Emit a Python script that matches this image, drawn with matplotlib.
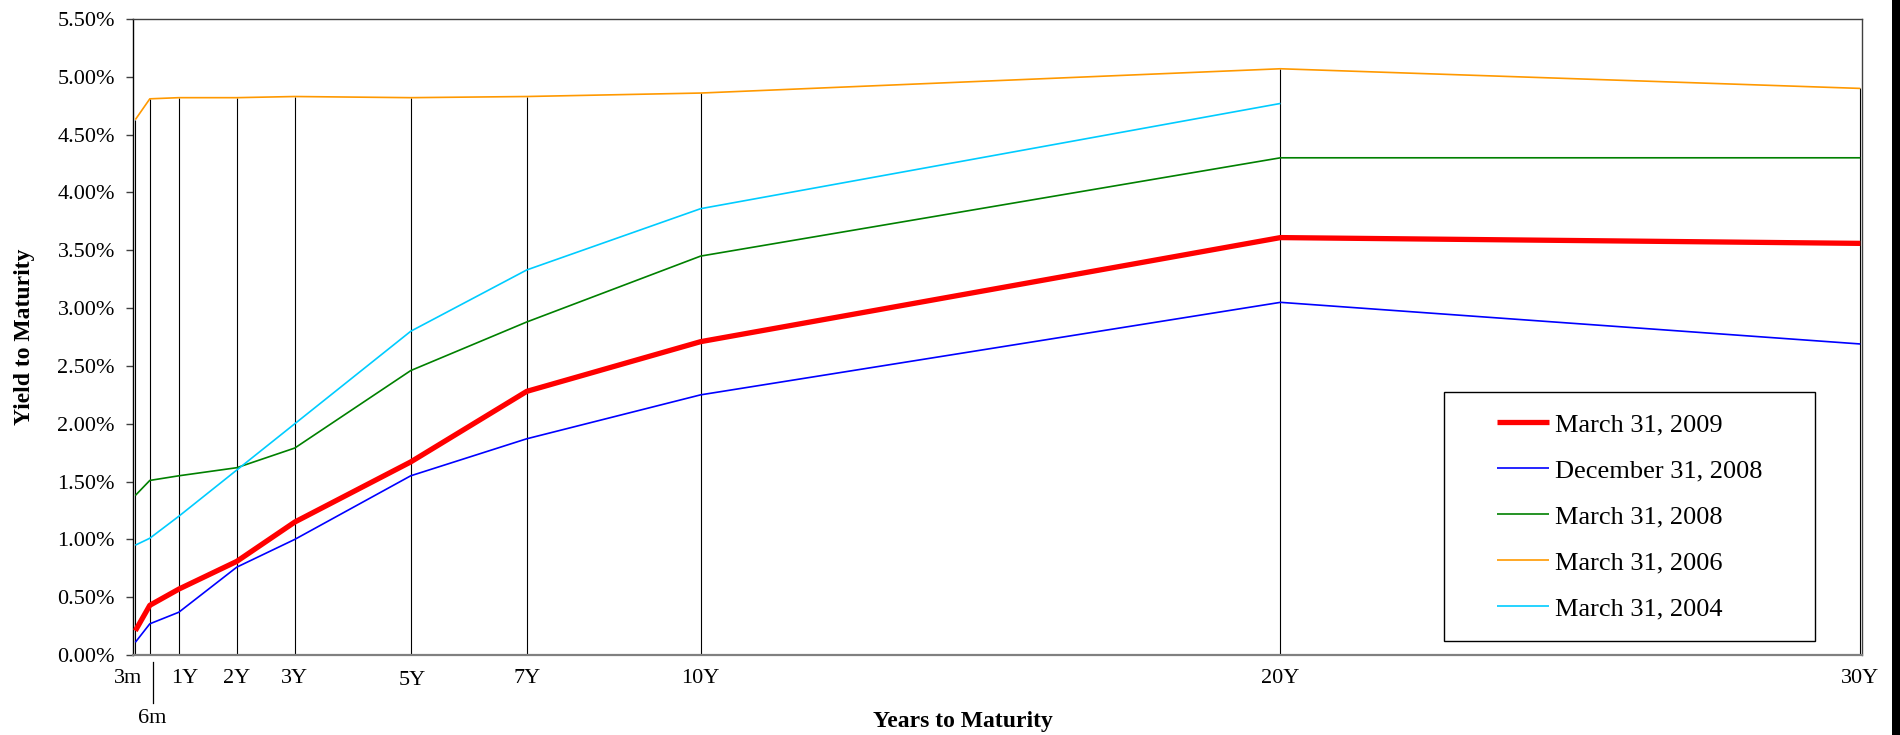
import numpy as np
import matplotlib
matplotlib.use("Agg")
import matplotlib.pyplot as plt
import matplotlib.transforms as mtransforms
from matplotlib.patches import Rectangle

# ---------------------------------------------------------------------------
# data (yield curve, % per maturity)
# ---------------------------------------------------------------------------
MATURITY_YEARS = [0.25, 0.5, 1, 2, 3, 5, 7, 10, 20, 30]
MATURITY_LABELS = ["3m", "6m", "1Y", "2Y", "3Y", "5Y", "7Y", "10Y", "20Y", "30Y"]

YLD_MAR_2009 = [0.21, 0.43, 0.57, 0.81, 1.15, 1.67, 2.28, 2.71, 3.61, 3.56]
YLD_DEC_2008 = [0.11, 0.27, 0.37, 0.76, 1.00, 1.55, 1.87, 2.25, 3.05, 2.69]
YLD_MAR_2008 = [1.38, 1.51, 1.55, 1.62, 1.79, 2.46, 2.88, 3.45, 4.30, 4.30]
YLD_MAR_2006 = [4.63, 4.81, 4.82, 4.82, 4.83, 4.82, 4.83, 4.86, 5.07, 4.90]
YLD_MAR_2004 = [0.95, 1.01, 1.20, 1.60, 2.00, 2.80, 3.33, 3.86, 4.77, np.nan]

SERIES = [
    ("March 31, 2009", YLD_MAR_2009, "#ff0000", 3.8),
    ("December 31, 2008", YLD_DEC_2008, "#0000ff", 1.2),
    ("March 31, 2008", YLD_MAR_2008, "#008000", 1.2),
    ("March 31, 2006", YLD_MAR_2006, "#ff9900", 1.2),
    ("March 31, 2004", YLD_MAR_2004, "#00ccff", 1.2),
]

plt.rcParams["font.family"] = ["Liberation Serif", "DejaVu Serif"]

fig = plt.figure(figsize=(19, 7.35), dpi=100)
ax = fig.add_axes([0.0700, 0.1088, 0.9100, 0.8653])

# drop lines from the axis up to the highest curve at each maturity
tops = np.nanmax(np.array([s[1] for s in SERIES], dtype=float), axis=0)
ax.vlines(MATURITY_YEARS, 0, tops, colors="black", lw=0.8, zorder=1)

handles = []
for name, vals, color, lw in SERIES:
    (h,) = ax.plot(MATURITY_YEARS, vals, color=color, lw=lw, label=name,
                   solid_capstyle="butt", zorder=3)
    handles.append(h)

ax.set_xlim(0.21, 30.03)
ax.set_ylim(0, 5.5)
ax.set_yticks(np.arange(0, 5.51, 0.5))
ax.yaxis.set_major_formatter(plt.FuncFormatter(lambda v, _: f"{v:.2f}%"))
ax.tick_params(axis="y", direction="out", length=5, width=1, color="#404040",
               labelsize=16, pad=8)

ax.set_xticks(MATURITY_YEARS)
ax.set_xticklabels(MATURITY_LABELS)
ax.tick_params(axis="x", length=0, labelsize=16, pad=10)

# nudge the crowded short-end labels like the original
offsets = {"3m": (-7, 0), "6m": (2, -40), "1Y": (6, 0), "5Y": (2, -2)}
for lab in ax.get_xticklabels():
    dx, dy = offsets.get(lab.get_text(), (0, 0))
    if dx or dy:
        lab.set_transform(lab.get_transform()
                          + mtransforms.ScaledTranslation(dx / 100, dy / 100, fig.dpi_scale_trans))

# small separator tick under the 6m point
blend = mtransforms.blended_transform_factory(ax.transData, ax.transAxes)
sep = blend + mtransforms.ScaledTranslation(0.03, 0, fig.dpi_scale_trans)
ax.plot([MATURITY_YEARS[1]] * 2, [-0.0105, -0.075], color="black", lw=0.9,
        transform=sep, clip_on=False)

for side in ("top", "right"):
    ax.spines[side].set_color("#404040")
    ax.spines[side].set_linewidth(1.0)
ax.spines["left"].set_color("black")
ax.spines["left"].set_linewidth(1.0)
ax.spines["bottom"].set_color("#808080")
ax.spines["bottom"].set_linewidth(1.6)

ax.set_ylabel("Yield to Maturity", fontsize=17, fontweight="bold", labelpad=16)
ax.set_xlabel("Years to Maturity", fontsize=17, fontweight="bold")
ax.xaxis.set_label_coords(0.48, -0.088)

# legend: drawn box + frameless legend centred in it
ax.add_patch(Rectangle((0.758, 0.022), 0.215, 0.3915, transform=ax.transAxes,
                       facecolor="white", edgecolor="black", lw=1.0, zorder=4))
leg = ax.legend(handles=handles, loc="center", bbox_to_anchor=(0.8658, 0.2178),
                frameon=False, fontsize=19, handlelength=1.97, handletextpad=0.23,
                labelspacing=0.85, borderpad=0)
leg.set_zorder(5)

# dark strip on the right edge of the original image
fig.add_artist(Rectangle((1892 / 1900, 0), 8 / 1900, 1, transform=fig.transFigure,
                         facecolor="black", edgecolor="black", lw=0, zorder=100))

fig.savefig("out.png", dpi=100)
